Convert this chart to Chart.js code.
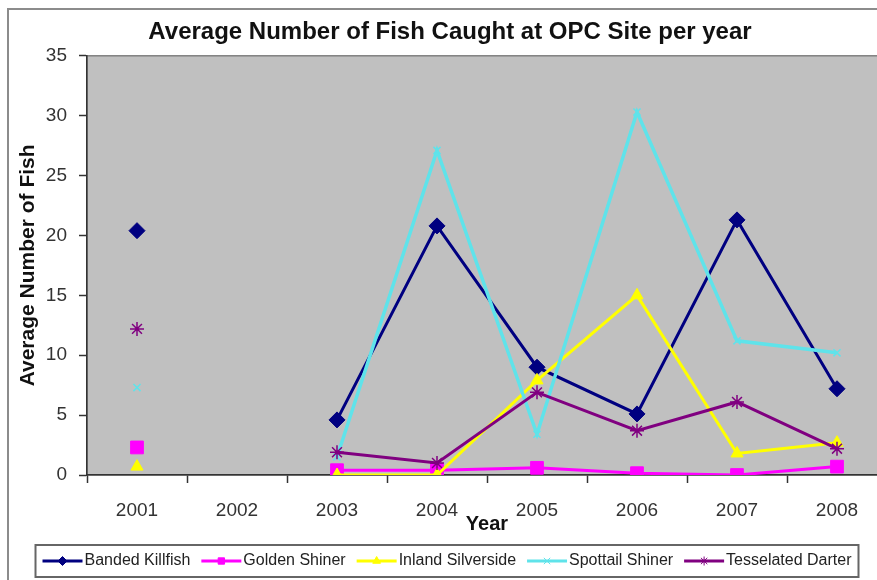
<!DOCTYPE html>
<html>
<head>
<meta charset="utf-8">
<script src="https://cdn.jsdelivr.net/npm/chart.js@4"></script>
<style>
  html, body { margin: 0; padding: 0; background: #fff; overflow: hidden; }
  #wrap { width: 877px; height: 580px; overflow: hidden; }
</style>
</head>
<body>
<div id="wrap"><canvas id="fish" width="900" height="580"></canvas></div>
<script>
const years = ["2001", "2002", "2003", "2004", "2005", "2006", "2007", "2008"];
const bandedKillfish = [20.4, null, 4.6, 20.8, 9.0, 5.1, 21.3, 7.2];
const goldenShiner = [2.3, null, 0.4, 0.4, 0.6, 0.15, 0.0, 0.7];
const inlandSilverside = [0.7, null, 0.0, 0.0, 7.9, 15.0, 1.8, 2.7];
const spottailShiner = [7.3, null, 1.5, 27.1, 3.4, 30.3, 11.2, 10.2];
const tesselatedDarter = [12.2, null, 1.9, 1.0, 6.9, 3.7, 6.1, 2.2];
const yTicks = [0, 5, 10, 15, 20, 25, 30, 35];

const FONT = "'Liberation Sans', Arial, sans-serif";

const series = (label, data, color, style, radius, width, order) => ({
  label: label,
  data: data,
  borderColor: color,
  backgroundColor: color,
  borderWidth: width,
  pointStyle: style,
  pointRadius: radius,
  pointBorderWidth: style === "star" || style === "crossRot" ? 1.5 : 1,
  pointBorderColor: color,
  pointBackgroundColor: color,
  tension: 0,
  spanGaps: false,
  order: order,
});

// gray plot area, outer frame and legend box
const decor = {
  id: "decor",
  beforeDraw(chart) {
    const { ctx, chartArea: a } = chart;
    ctx.save();
    ctx.strokeStyle = "#8c8c8c";
    ctx.lineWidth = 2;
    ctx.strokeRect(8, 9, 1000, 700);
    ctx.fillStyle = "#c0c0c0";
    ctx.fillRect(a.left, a.top, a.right - a.left, a.bottom - a.top);
    ctx.strokeStyle = "#808080";
    ctx.lineWidth = 1.5;
    ctx.strokeRect(a.left, a.top, a.right - a.left, a.bottom - a.top);
    ctx.restore();
  },
  afterDraw(chart) {
    const { ctx } = chart;
    const sets = chart.data.datasets;
    ctx.save();
    ctx.font = "16px " + FONT;
    ctx.textBaseline = "middle";
    const lineLen = 40, gap = 11;
    const widths = sets.map(d => lineLen + 2 + ctx.measureText(d.label).width);
    const total = widths.reduce((s, w) => s + w, 0) + gap * (sets.length - 1);
    const cx = 447, cy = 561;
    let x = cx - total / 2;
    ctx.strokeStyle = "#666";
    ctx.lineWidth = 2;
    ctx.strokeRect(x - 7, 545, total + 14, 32);
    sets.forEach((d, i) => {
      ctx.strokeStyle = d.borderColor;
      ctx.fillStyle = d.borderColor;
      ctx.lineWidth = 3;
      ctx.beginPath();
      ctx.moveTo(x, cy);
      ctx.lineTo(x + lineLen, cy);
      ctx.stroke();
      ctx.lineWidth = 1;
      Chart.helpers.drawPoint(ctx, {
        pointStyle: d.pointStyle,
        radius: Math.min(d.pointRadius, 4.5),
        borderWidth: 1,
      }, x + lineLen / 2, cy);
      ctx.fillStyle = "#222";
      ctx.fillText(d.label, x + lineLen + 2, cy);
      x += widths[i] + gap;
    });
    ctx.restore();
  },
};

new Chart(document.getElementById("fish"), {
  type: "line",
  data: {
    labels: years,
    datasets: [
      series("Banded Killfish", bandedKillfish, "#000080", "rectRot", 8, 3, 5),
      series("Golden Shiner", goldenShiner, "#ff00ff", "rect", 9, 3, 4),
      series("Inland Silverside", inlandSilverside, "#ffff00", "triangle", 7, 3, 3),
      series("Spottail Shiner", spottailShiner, "#5fe3ea", "crossRot", 5, 3.5, 2),
      series("Tesselated Darter", tesselatedDarter, "#800080", "star", 7, 3, 1),
    ],
  },
  options: {
    responsive: false,
    animation: false,
    events: [],
    layout: { padding: { left: 13, right: 13, top: 0, bottom: 44 } },
    scales: {
      x: {
        type: "category",
        offset: true,
        grid: { offset: true, drawOnChartArea: false, drawTicks: true, tickLength: 8, color: "#333", tickWidth: 1.5 },
        border: { color: "#333", width: 1.5 },
        ticks: { color: "#333", padding: 16, maxRotation: 0, font: { family: FONT, size: 19 } },
        title: { display: true, text: "Year", color: "#111", padding: { top: 0, bottom: 0 }, font: { family: FONT, size: 20, weight: "bold" } },
        afterFit: (s) => { s.height = 61; },
      },
      y: {
        min: 0,
        max: 35,
        afterBuildTicks: (s) => { s.ticks = yTicks.map(v => ({ value: v })); },
        grid: { drawOnChartArea: false, drawTicks: true, tickLength: 8, color: "#333", tickWidth: 1.5 },
        border: { color: "#333", width: 1.5 },
        ticks: { color: "#333", padding: 12, font: { family: FONT, size: 19 } },
        title: { display: true, text: "Average Number of Fish", color: "#111", padding: { top: 3, bottom: 0 }, font: { family: FONT, size: 21, weight: "bold" } },
        afterFit: (s) => { s.width = 74; },
      },
    },
    plugins: {
      legend: { display: false },
      tooltip: { enabled: false },
      title: {
        display: true,
        text: "Average Number of Fish Caught at OPC Site per year",
        color: "#111",
        padding: { top: 18, bottom: 9 },
        font: { family: FONT, size: 24, weight: "bold" },
      },
    },
  },
  plugins: [decor],
});
</script>
</body>
</html>
